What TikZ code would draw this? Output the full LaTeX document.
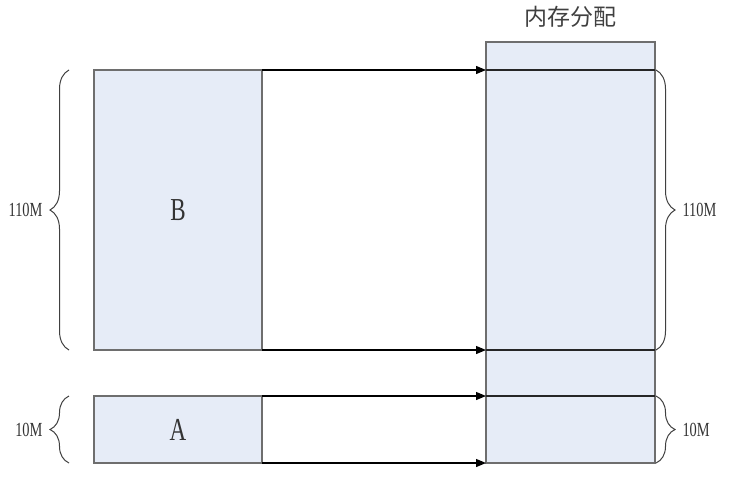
\documentclass[tikz,border=0pt]{standalone}
\usepackage{fontspec}
\usepackage{tikz}
\usetikzlibrary{positioning,arrows.meta,decorations.pathreplacing}
\newfontfamily\cjk{Noto Sans CJK SC}
\newfontfamily\narrowfont[FakeStretch=0.72]{Liberation Serif}
\definecolor{ink}{HTML}{000000}
\definecolor{edge}{HTML}{6E6E6E}
\definecolor{bluebg}{HTML}{E6ECF7}
\tikzset{
  blk/.style={rectangle,draw=edge,fill=bluebg,line width=0.75pt,
    inner sep=0pt,outer sep=0pt,minimum width=84pt,
    font=\narrowfont\fontsize{16}{18}\selectfont,text=black!80},
  memblk/.style={rectangle,draw=edge,fill=bluebg,line width=0.75pt,
    inner sep=0pt,outer sep=0pt,minimum width=84.5pt},
  ar/.style={-{Triangle[length=5pt,width=4pt]},line width=0.6pt,draw=ink},
  sep/.style={line width=0.75pt,draw=ink!85},
  brc/.style={decorate,decoration={brace,amplitude=9.5pt},line width=0.5pt,draw=black!75},
  lbl/.style={font=\narrowfont\fontsize{10}{12}\selectfont,text=black!80,inner sep=0pt},
}
\begin{document}
\begin{tikzpicture}[x=0.5pt,y=-0.5pt]
  \useasboundingbox (0,0) rectangle (737,482);
  % source blocks
  \node[blk,minimum height=140pt,anchor=north west] (B) at (94,70) {B};
  \node[blk,minimum height=33.5pt,anchor=north west] (A) at (94,396) {A};
  % memory column
  \node[memblk,minimum height=14pt,anchor=south west] (hdr) at (486,70) {};
  \node[memblk,minimum height=140pt,below=0pt of hdr] (m110) {};
  \node[memblk,minimum height=23pt,below=0pt of m110] (mgap) {};
  \node[memblk,minimum height=33.5pt,below=0pt of mgap] (m10) {};
  \node[font=\cjk\fontsize{11.5}{13}\selectfont,text=black!75,inner sep=0pt,
    above=7pt of hdr] (title) {内存分配};
  \draw[sep] (m110.north west)--(m110.north east);
  \draw[sep] (mgap.north west)--(mgap.north east);
  \draw[sep] (m10.north west)--(m10.north east);
  % arrows
  \draw[ar] (B.north east)--(m110.north west);
  \draw[ar] (B.south east)--(mgap.north west);
  \draw[ar] (A.north east)--(m10.north west);
  \draw[ar] (A.south east)--(m10.south west);
  % braces
  \draw[brc] ([xshift=-12.5pt]B.south west)--([xshift=-12.5pt]B.north west)
    node[midway,left=13pt,lbl] (lB) {110M};
  \draw[brc] ([xshift=-12.5pt]A.south west)--([xshift=-12.5pt]A.north west)
    node[midway,left=13pt,lbl] (lA) {10M};
  \draw[brc] ([xshift=0.5pt]m110.north east)--([xshift=0.5pt]m110.south east)
    node[midway,right=13pt,lbl] (r110) {110M};
  \draw[brc] ([xshift=0.5pt]m10.north east)--([xshift=0.5pt]m10.south east)
    node[midway,right=13pt,lbl] (r10) {10M};
\end{tikzpicture}
\end{document}
